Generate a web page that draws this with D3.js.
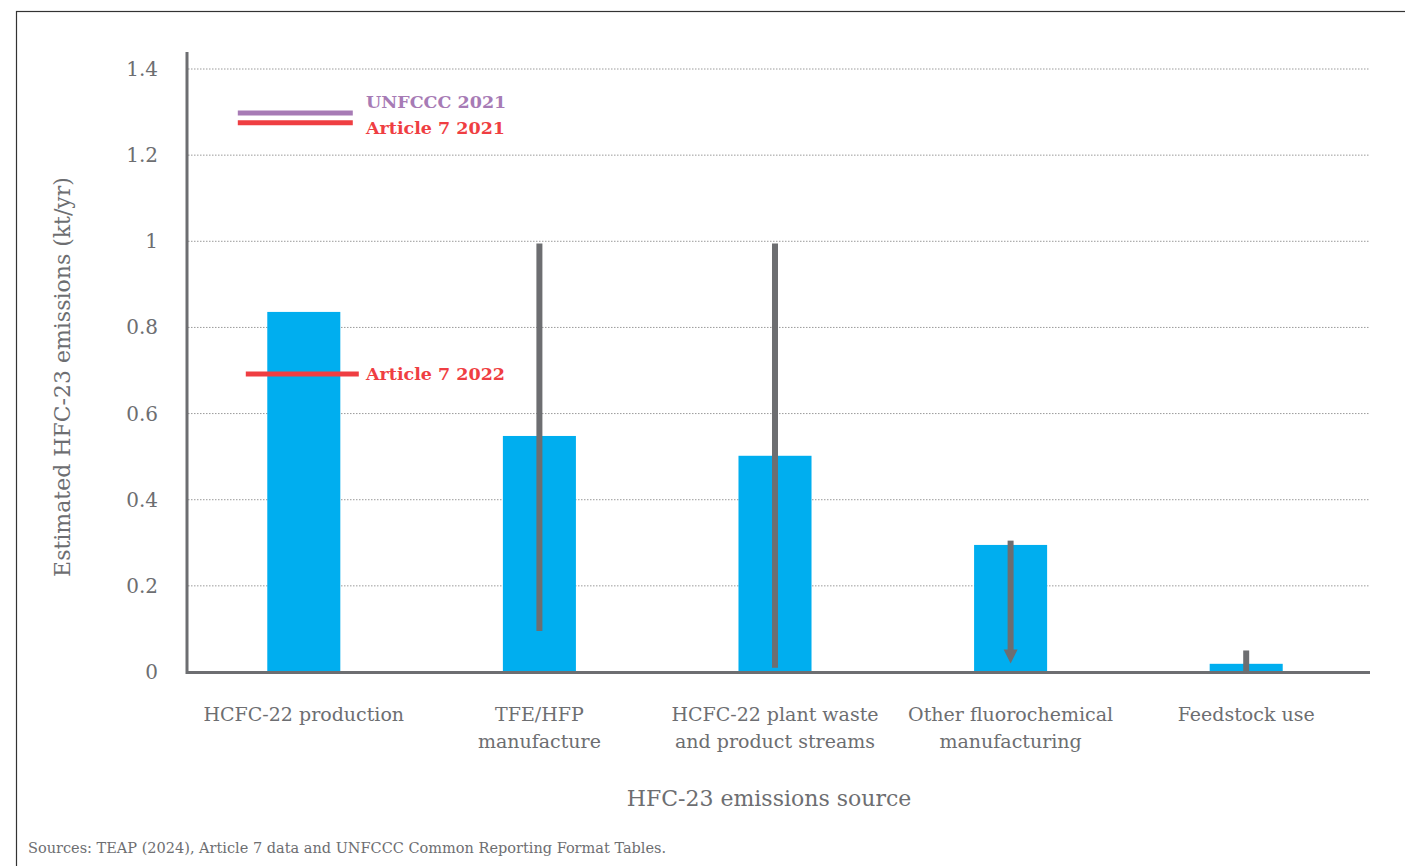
<!DOCTYPE html>
<html><head><meta charset="utf-8">
<script src="https://cdn.jsdelivr.net/npm/d3@7"></script>
<style>
body{margin:0;background:#fff;}
svg text{font-family:"Roboto Slab","DejaVu Serif",serif;}
</style></head><body>
<svg id="chart" width="1405" height="866"></svg>
<script>
const categories = [["HCFC-22 production"],["TFE/HFP","manufacture"],["HCFC-22 plant waste","and product streams"],["Other fluorochemical","manufacturing"],["Feedstock use"]];
const values = [0.836, 0.548, 0.502, 0.295, 0.019];
const errLow = [null, 0.095, 0.01, 0.02, 0.0];
const errHigh = [null, 0.995, 0.995, 0.305, 0.05];
const errArrow = [false, false, false, true, false];
const yTicks = [0, 0.2, 0.4, 0.6, 0.8, 1, 1.2, 1.4];
const refLines = [
  {label:"UNFCCC 2021", value:1.298, color:"#a77bb5", cat:0, x0:-66, x1:49},
  {label:"Article 7 2021", value:1.275, color:"#ef3e42", cat:0, x0:-66, x1:49},
  {label:"Article 7 2022", value:0.692, color:"#ef3e42", cat:0, x0:-58, x1:55}
];
const gray = "#6d6e71";
const svg = d3.select("#chart");
// frame
svg.append("rect").attr("x",16.5).attr("y",11.5).attr("width",1420).attr("height",900)
  .attr("fill","none").attr("stroke","#333").attr("stroke-width",1.2);

const y = d3.scaleLinear().domain([0,1.4]).range([672,69]);
const x = d3.scaleBand().domain(d3.range(categories.length)).range([186,1364]).paddingInner(0.69).paddingOuter(0.345);

// grid
svg.append("g").selectAll("line").data(yTicks.filter(d=>d>0)).join("line")
  .attr("x1",188).attr("x2",1370).attr("y1",d=>y(d)).attr("y2",d=>y(d))
  .attr("stroke","#9a9a9a").attr("stroke-width",1).attr("stroke-dasharray","1.5,1.5");

// y tick labels
svg.append("g").selectAll("text").data(yTicks).join("text")
  .attr("x",158).attr("y",d=>y(d)).attr("dy","0.35em").attr("text-anchor","end")
  .attr("fill",gray).attr("font-size",20).text(d=>d);

// bars
svg.append("g").selectAll("rect").data(values).join("rect")
  .attr("x",(d,i)=>x(i)).attr("width",x.bandwidth())
  .attr("y",d=>y(d)).attr("height",d=>y(0)-y(d)).attr("fill","#00aeef");

// axes lines
svg.append("line").attr("x1",187).attr("x2",187).attr("y1",52).attr("y2",674).attr("stroke",gray).attr("stroke-width",3);
svg.append("line").attr("x1",186).attr("x2",1370).attr("y1",672.5).attr("y2",672.5).attr("stroke",gray).attr("stroke-width",3);

// error bars
const eb = svg.append("g");
values.forEach((v,i)=>{
  if(errLow[i]===null) return;
  const cx = x(i)+x.bandwidth()/2;
  if(errArrow[i]){
    const tip = y(errLow[i]);
    eb.append("line").attr("x1",cx).attr("x2",cx).attr("y1",y(errHigh[i])).attr("y2",tip-10).attr("stroke",gray).attr("stroke-width",6);
    eb.append("path").attr("d",`M${cx-7},${tip-14}L${cx+7},${tip-14}L${cx},${tip}Z`).attr("fill",gray);
  } else {
    eb.append("line").attr("x1",cx).attr("x2",cx).attr("y1",y(errHigh[i])).attr("y2",y(errLow[i])).attr("stroke",gray).attr("stroke-width",6);
  }
});

// reference lines
refLines.forEach(r=>{
  const cx = x(r.cat)+x.bandwidth()/2;
  svg.append("line").attr("x1",cx+r.x0).attr("x2",cx+r.x1).attr("y1",y(r.value)).attr("y2",y(r.value))
    .attr("stroke",r.color).attr("stroke-width",5);
});
svg.append("text").attr("x",366).attr("y",y(refLines[0].value)-5).attr("fill",refLines[0].color).attr("font-size",17.5).attr("font-weight",600).text(refLines[0].label);
svg.append("text").attr("x",366).attr("y",y(refLines[1].value)+11).attr("fill",refLines[1].color).attr("font-size",17.5).attr("font-weight",600).text(refLines[1].label);
svg.append("text").attr("x",366).attr("y",y(refLines[2].value)).attr("dy","0.35em").attr("fill",refLines[2].color).attr("font-size",17.5).attr("font-weight",600).text(refLines[2].label);

// x labels
const xl = svg.append("g").selectAll("text").data(categories).join("text")
  .attr("x",(d,i)=>x(i)+x.bandwidth()/2).attr("y",721).attr("text-anchor","middle")
  .attr("fill",gray).attr("font-size",19);
xl.selectAll("tspan").data(d=>d).join("tspan")
  .attr("x",function(){return this.parentNode.getAttribute("x");})
  .attr("dy",(d,i)=>i?27:0).text(d=>d);

// axis titles
svg.append("text").attr("transform","translate(70,377) rotate(-90)").attr("text-anchor","middle")
  .attr("fill",gray).attr("font-size",22).text("Estimated HFC-23 emissions (kt/yr)");
svg.append("text").attr("x",769).attr("y",806).attr("text-anchor","middle")
  .attr("fill",gray).attr("font-size",22).text("HFC-23 emissions source");

svg.append("text").attr("x",28).attr("y",853).attr("fill",gray).attr("font-size",14.5)
  .text("Sources: TEAP (2024), Article 7 data and UNFCCC Common Reporting Format Tables.");
</script></body></html>
